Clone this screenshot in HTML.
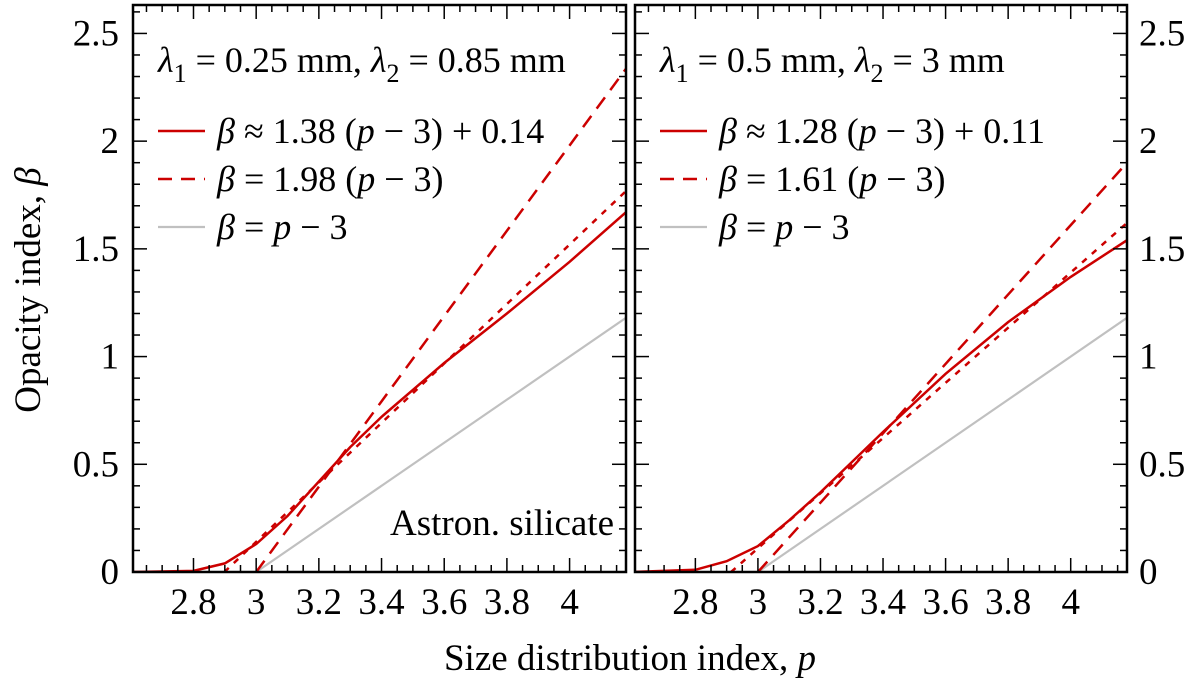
<!DOCTYPE html>
<html><head><meta charset="utf-8"><style>
html,body{margin:0;padding:0;background:#fff;}
svg, svg text{font-family:"Liberation Serif","Times New Roman","DejaVu Serif",serif;}
</style></head><body>
<svg id="chart" width="1200" height="684" viewBox="0 0 1200 684" xmlns="http://www.w3.org/2000/svg" font-family="Liberation Serif, serif">
</svg>
<script>
const xTicks = [2.8, 3, 3.2, 3.4, 3.6, 3.8, 4];
const xTickLabels = ["2.8", "3", "3.2", "3.4", "3.6", "3.8", "4"];
const yTicks = [0, 0.5, 1, 1.5, 2, 2.5];
const yTickLabels = ["0", "0.5", "1", "1.5", "2", "2.5"];
const pGrid = [2.6, 2.8, 2.9, 3.0, 3.1, 3.2, 3.3, 3.4, 3.6, 3.8, 4.0, 4.18];
const leftBeta = [0, 0.005, 0.04, 0.13, 0.26, 0.42, 0.58, 0.72, 0.97, 1.2, 1.44, 1.67];
const rightBeta = [0, 0.01, 0.05, 0.12, 0.24, 0.37, 0.51, 0.65, 0.92, 1.16, 1.37, 1.54];
const leftFit = [1.38, 0.14];
const leftSteep = [1.98, 0];
const rightFit = [1.28, 0.11];
const rightSteep = [1.61, 0];
const unitSlope = [1, 0];

const NS = "http://www.w3.org/2000/svg";
const FF = '"Liberation Serif", "Times New Roman", "DejaVu Serif", serif';
const svg = document.getElementById("chart");
const XMIN = 2.607, XMAX = 4.18, YMIN = 0, YMAX = 2.632;
const TOP = 5, BOT = 572;
function mk(tag, attrs, parent) {
  const e = document.createElementNS(NS, tag);
  for (const k in attrs) e.setAttribute(k, attrs[k]);
  if (tag === "text") e.style.fontFamily = FF;
  (parent || svg).appendChild(e);
  return e;
}
function panel(L, R, name, beta, fit, steep, title, fitLabel, steepLabel, leftLabels, rightLabels, extra) {
  const g = mk("g", {});
  
  
  const xs = p => L + (p - XMIN) / (XMAX - XMIN) * (R - L);
  const ys = b => BOT - (b - YMIN) / (YMAX - YMIN) * (BOT - TOP);
  const clip = mk("clipPath", {id: "clip-" + name}, g);
  mk("rect", {x: L, y: TOP, width: R - L, height: BOT - TOP}, clip);
  const cg = mk("g", {"clip-path": "url(#clip-" + name + ")"}, g);
  const gl = mk("line", {x1: xs(3), y1: ys(0), x2: xs(XMAX), y2: ys(unitSlope[0] * (XMAX - 3) + unitSlope[1]), stroke: "#c0c0c0", "stroke-width": 2.2}, cg);
  
  
  const s0 = 3 - steep[1] / steep[0];
  const sl = mk("line", {x1: xs(s0), y1: ys(0), x2: xs(XMAX), y2: ys(steep[0] * (XMAX - 3) + steep[1]), stroke: "#cc0000", "stroke-width": 2.5, "stroke-dasharray": "14 9"}, cg);
  
  
  const f0 = 3 - fit[1] / fit[0];
  const fl = mk("line", {x1: xs(f0), y1: ys(0), x2: xs(XMAX), y2: ys(fit[0] * (XMAX - 3) + fit[1]), stroke: "#cc0000", "stroke-width": 2.5, "stroke-dasharray": "6 7"}, cg);
  
  
  const d = pGrid.map((p, i) => (i ? "L" : "M") + xs(p).toFixed(1) + " " + ys(beta[i]).toFixed(1)).join(" ");
  const cl = mk("path", {d: d, fill: "none", stroke: "#cc0000", "stroke-width": 2.5}, cg);
  
  
  const fr = mk("rect", {x: L, y: TOP, width: R - L, height: BOT - TOP, fill: "none", stroke: "#000", "stroke-width": 2.5}, g);
  
  
  for (let p = 2.65; p < XMAX; p += 0.05) {
    const pr = Math.round(p * 100) / 100;
    const major = Math.abs(pr * 5 - Math.round(pr * 5)) < 1e-6;
    const len = major ? 14 : 7;
    mk("line", {x1: xs(pr), y1: BOT, x2: xs(pr), y2: BOT - len, stroke: "#000", "stroke-width": 1.5}, g);
    mk("line", {x1: xs(pr), y1: TOP, x2: xs(pr), y2: TOP + len, stroke: "#000", "stroke-width": 1.5}, g);
  }
  xTicks.forEach((p, i) => {
    const t = mk("text", {x: xs(p), y: 614, "text-anchor": "middle", "font-size": 37}, g);
    t.textContent = xTickLabels[i];
    
    
  });
  for (let b = 0.1; b < YMAX; b += 0.1) {
    const br = Math.round(b * 10) / 10;
    const major = Math.abs(br * 2 - Math.round(br * 2)) < 1e-6;
    const len = major ? 14 : 7;
    mk("line", {x1: L, y1: ys(br), x2: L + len, y2: ys(br), stroke: "#000", "stroke-width": 1.5}, g);
    mk("line", {x1: R, y1: ys(br), x2: R - len, y2: ys(br), stroke: "#000", "stroke-width": 1.5}, g);
  }
  yTicks.forEach((b, i) => {
    if (leftLabels) {
      const t = mk("text", {x: L - 14, y: ys(b) + 12, "text-anchor": "end", "font-size": 37}, g);
      t.textContent = yTickLabels[i];
      
      
    }
    if (rightLabels) {
      const t = mk("text", {x: R + 12, y: ys(b) + 12, "text-anchor": "start", "font-size": 37}, g);
      t.textContent = yTickLabels[i];
      
      
    }
  });
  const tt = mk("text", {x: L + 25, y: 72, "font-size": 36}, g);
  tt.innerHTML = '<tspan font-style="italic">λ</tspan><tspan dy="10" font-size="26">1</tspan><tspan dy="-10"> = ' + title[0] + ', </tspan><tspan font-style="italic">λ</tspan><tspan dy="10" font-size="26">2</tspan><tspan dy="-10"> = ' + title[1] + '</tspan>';
  
  
  const rows = [
    {y: 131, dash: null, col: "#cc0000", txt: '<tspan font-style="italic">β</tspan> ≈ ' + fitLabel[0] + ' (<tspan font-style="italic">p</tspan> − 3) + ' + fitLabel[1], name: 'legend-entry-fit'},
    {y: 179, dash: "14 9", col: "#cc0000", txt: '<tspan font-style="italic">β</tspan> = ' + steepLabel + ' (<tspan font-style="italic">p</tspan> − 3)', name: 'legend-entry-steep'},
    {y: 227, dash: null, col: "#c0c0c0", txt: '<tspan font-style="italic">β</tspan> = <tspan font-style="italic">p</tspan> − 3', name: 'legend-entry-reference'}
  ];
  rows.forEach(r => {
    const lg = mk("g", {}, g);
    
    
    const a = {x1: L + 25, y1: r.y, x2: L + 72, y2: r.y, stroke: r.col, "stroke-width": r.col === "#c0c0c0" ? 2.2 : 2.5};
    if (r.dash) a["stroke-dasharray"] = r.dash;
    mk("line", a, lg);
    const t = mk("text", {x: L + 84, y: r.y + 12, "font-size": 36}, lg);
    t.innerHTML = r.txt;
  });
  if (extra) {
    const t = mk("text", {x: R - 12, y: 535, "text-anchor": "end", "font-size": 37}, g);
    t.textContent = extra;
    
    
  }
}
panel(133, 626, "left-panel", leftBeta, leftFit, leftSteep, ["0.25 mm", "0.85 mm"], ["1.38", "0.14"], "1.98", true, false, "Astron. silicate");
panel(635, 1127, "right-panel", rightBeta, rightFit, rightSteep, ["0.5 mm", "3 mm"], ["1.28", "0.11"], "1.61", false, true, null);
const xt = mk("text", {x: 630, y: 670, "text-anchor": "middle", "font-size": 37});
xt.innerHTML = 'Size distribution index, <tspan font-style="italic">p</tspan>';


const yt = mk("text", {x: 0, y: 0, "text-anchor": "middle", "font-size": 37, transform: "translate(40,290) rotate(-90)"});
yt.innerHTML = 'Opacity index, <tspan font-style="italic">β</tspan>';


</script>
</body></html>
